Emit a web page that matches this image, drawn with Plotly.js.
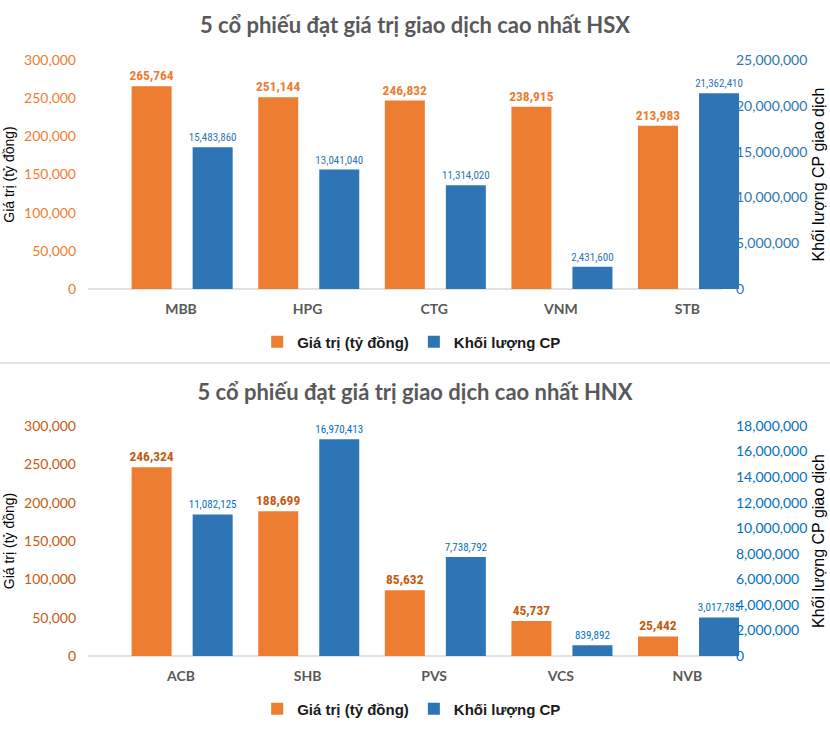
<!DOCTYPE html>
<html>
<head>
<meta charset="utf-8">
<script src="https://cdn.plot.ly/plotly-3.0.1.min.js"></script>
<style>
  html, body { margin: 0; padding: 0; background: #ffffff; }
  #hsx { width: 830px; height: 362px; }
  #sep { width: 830px; height: 0; border-top: 2px solid #e3e3e3; }
  #hnx { width: 830px; height: 391px; }
</style>
</head>
<body>
<div id="hsx"></div>
<div id="sep"></div>
<div id="hnx"></div>
<script>
// ---------- data ----------
const hsxTitle = "5 cổ phiếu đạt giá trị giao dịch cao nhất HSX";
const hsxStocks = ["MBB", "HPG", "CTG", "VNM", "STB"];
const hsxValue = [265764, 251144, 246832, 238915, 213983];
const hsxVolume = [15483860, 13041040, 11314020, 2431600, 21362410];

const hnxTitle = "5 cổ phiếu đạt giá trị giao dịch cao nhất HNX";
const hnxStocks = ["ACB", "SHB", "PVS", "VCS", "NVB"];
const hnxValue = [246324, 188699, 85632, 45737, 25442];
const hnxVolume = [11082125, 16970413, 7738792, 839892, 3017785];

const valueName = "Giá trị (tỷ đồng)";
const volumeName = "Khối lượng CP";
const leftAxisTitle = "Giá trị (tỷ đồng)";
const rightAxisTitle = "Khối lượng CP giao dịch";

// ---------- drawing ----------
const ORANGE = "#ED7D31";
const BLUE = "#2E75B6";
const CAL = "Lato, 'Open Sans', sans-serif";
const ARIAL = "'Liberation Sans', Arial, sans-serif";
const NARROW = "'Roboto Condensed', Roboto, sans-serif";

function draw(id, cfg) {
  const H = cfg.height;
  const traces = [
    {
      type: "bar", name: valueName, x: cfg.cats, y: cfg.value,
      marker: { color: ORANGE }, offset: -0.39, width: 0.316,
      texttemplate: "%{y:,.0f}", textposition: "outside", cliponaxis: false,
      constraintext: "none",
      textfont: { family: NARROW, size: 13.5, color: cfg.orangeLabel, weight: "bold" },
      hoverinfo: "skip"
    },
    {
      type: "bar", name: volumeName, x: cfg.cats, y: cfg.volume, yaxis: "y2",
      marker: { color: BLUE }, offset: 0.092, width: 0.316,
      texttemplate: "%{y:,.0f}", textposition: "outside", cliponaxis: false,
      constraintext: "none",
      textfont: { family: NARROW, size: 11, color: cfg.blueLabel },
      hoverinfo: "skip"
    }
  ];
  const layout = {
    width: 830, height: H,
    margin: { l: 88, r: 70, t: cfg.top, b: cfg.bottom },
    paper_bgcolor: "#ffffff", plot_bgcolor: "rgba(0,0,0,0)",
    barmode: "overlay",
    showlegend: true,
    title: {
      text: cfg.title, x: 0.5, xanchor: "center", xref: "container",
      y: cfg.titleY, yanchor: "middle", yref: "container",
      font: { family: CAL, size: 22, color: "#595959", weight: "bold" }
    },
    xaxis: {
      type: "category", range: [-0.7346, 4.5735], fixedrange: true,
      showline: false, showgrid: false, zeroline: false, ticks: "",
      ticklabelstandoff: 10,
      tickfont: { family: CAL, size: 14, color: "#595959", weight: "bold" }
    },
    yaxis: {
      range: [0, 300000], dtick: 50000, tickformat: ",.0f",
      showgrid: false, zeroline: false, showline: false, ticks: "",
      ticklabelstandoff: 11,
      tickfont: { family: CAL, size: 14, color: cfg.leftTick },
      title: { text: leftAxisTitle, standoff: 6, font: { family: ARIAL, size: 14, color: "#000000" } }
    },
    yaxis2: {
      overlaying: "y", side: "right", anchor: "free", position: 0.9628,
      range: [0, cfg.rightMax], dtick: cfg.rightStep, tickformat: ",.0f",
      showgrid: false, zeroline: false, showline: false, ticks: "",
      tickfont: { family: CAL, size: 14, color: cfg.rightTick },
      title: { text: rightAxisTitle, standoff: 6, font: { family: ARIAL, size: 16, color: "#000000" } }
    },
    shapes: [{
      type: "line", xref: "paper", yref: "paper", x0: 0, x1: cfg.baseEnd, y0: 0, y1: 0,
      line: { color: "#d9d9d9", width: 1.5 }, layer: "below"
    }],
    legend: {
      orientation: "h", xref: "container", yref: "container",
      x: 0.496, xanchor: "center", y: cfg.legendY, yanchor: "middle",
      font: { family: ARIAL, size: 15, color: "#1a1a1a", weight: "bold" },
      itemclick: false, itemdoubleclick: false
    }
  };
  Plotly.newPlot(id, traces, layout, { displayModeBar: false, staticPlot: true });
}

draw("hsx", {
  height: 362, top: 60, bottom: 73,
  title: hsxTitle, titleY: 1 - 25 / 362, legendY: 1 - 342 / 362,
  cats: hsxStocks, value: hsxValue, volume: hsxVolume,
  rightMax: 25000000, rightStep: 5000000, baseEnd: 0.9435,
  orangeLabel: "#ED7D31", blueLabel: "#2E75B6",
  leftTick: "#ED7D31", rightTick: "#2E75B6"
});

draw("hnx", {
  height: 391, top: 62, bottom: 99,
  title: hnxTitle, titleY: 1 - 28 / 391, legendY: 1 - 345 / 391,
  cats: hnxStocks, value: hnxValue, volume: hnxVolume,
  rightMax: 18000000, rightStep: 2000000, baseEnd: 0.963,
  orangeLabel: "#C55A11", blueLabel: "#0070C0",
  leftTick: "#C55A11", rightTick: "#0070C0"
});
</script>
</body>
</html>
